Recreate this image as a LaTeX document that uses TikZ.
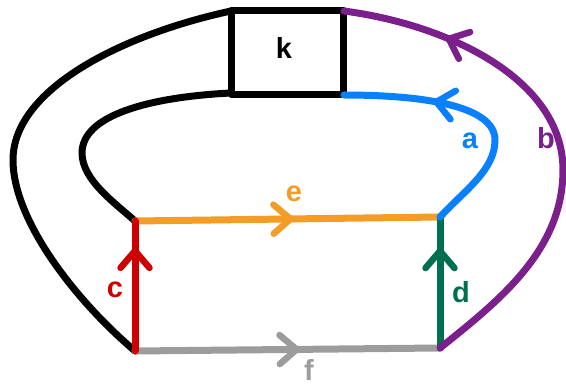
\documentclass[tikz,border=0pt]{standalone}
\usepackage{fontspec}
\setmainfont{Liberation Sans}
\usetikzlibrary{decorations.markings}
\definecolor{cred}{HTML}{CC0000}
\definecolor{corange}{HTML}{F39C26}
\definecolor{cblue}{HTML}{0A80FF}
\definecolor{cpurple}{HTML}{7B1F8C}
\definecolor{cgreen}{HTML}{006F50}
\definecolor{cgray}{HTML}{9C9C9C}
\tikzset{
  edge/.style={line width=7pt, line cap=round, line join=round},
  midarrow/.style={postaction={decorate}, decoration={markings,
     mark=at position #1 with {\draw[line width=6.5pt, line cap=round, line join=round]
        (-17pt,-14.5pt) -- (0pt,0pt) -- (-17pt,14.5pt);}}},
  lab/.style={font=\bfseries\fontsize{29}{29}\selectfont, inner sep=0pt},
  boxk/.style={draw, line width=7.5pt, minimum width=112pt, minimum height=84pt, inner sep=0pt, line join=round}
}
\begin{document}
\begin{tikzpicture}[x=1pt,y=-1pt]
\useasboundingbox (0,0) rectangle (566,385);
\node[boxk] (k) at (287.5,52.5) {};
\node[lab] (kl) at (284,48) {k};
\coordinate (A) at (135,221);
\coordinate (B) at (440,217);
\coordinate (C) at (135,351);
\coordinate (D) at (440,348);
\coordinate (kTL) at (231,11);
\coordinate (kBL) at (231,93);
\coordinate (kTR) at (344,11);
\coordinate (kBR) at (344,95);
% black outer
\draw[edge] (kTL) .. controls (120,35) and (13,90) .. (13,160)
  .. controls (13,220) and (75,300) .. (C);
% black inner
\draw[edge] (kBL) .. controls (150,97) and (82,115) .. (82,153)
  .. controls (82,180) and (115,203) .. (A);
% orange e
\draw[edge, corange, midarrow=0.51] (A) -- (B);
% gray f
\draw[edge, cgray, midarrow=0.53] (C) -- (D);
% red c
\draw[edge, cred, midarrow=0.77] (C) -- (A);
% green d
\draw[edge, cgreen, midarrow=0.74] (D) -- (B);
% blue a
\draw[edge, cblue, midarrow=0.65] (B) .. controls (465,190) and (495,170) .. (495,140)
  .. controls (495,105) and (420,95) .. (kBR);
% purple b
\draw[edge, cpurple, midarrow=0.79] (D) .. controls (500,300) and (563,250) .. (563,170)
  .. controls (563,80) and (450,25) .. (kTR);
\node[lab, cblue] (la) at (470,141) {a};
\node[lab, cpurple] (lb) at (546,138) {b};
\node[lab, cred] (lc) at (115,290) {c};
\node[lab, cgreen] (ld) at (461,292) {d};
\node[lab, corange] (le) at (294,194) {e};
\node[lab, cgray] (lf) at (309,370) {f};
\end{tikzpicture}
\end{document}
